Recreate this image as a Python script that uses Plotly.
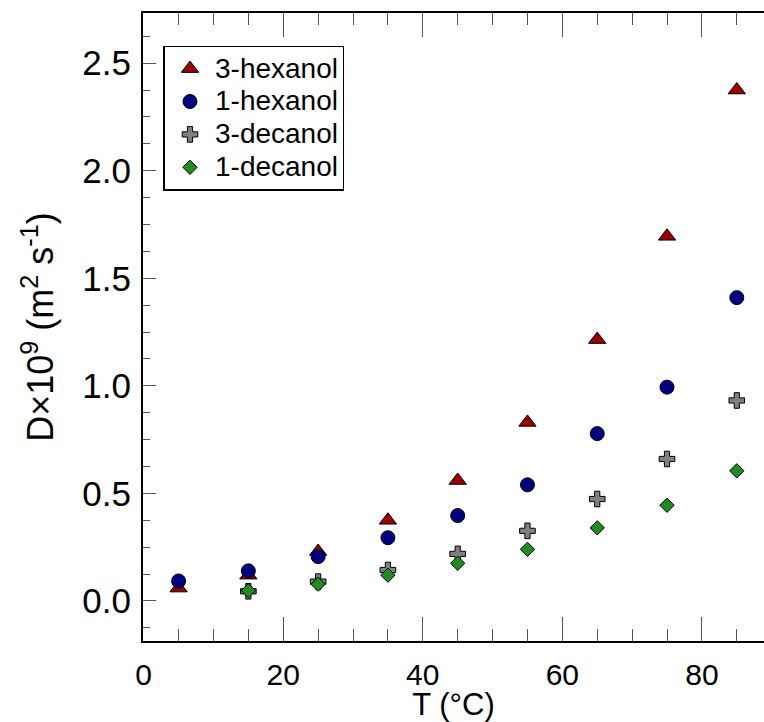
import plotly.graph_objects as go

# ---- data ----
T_hex = [5, 15, 25, 35, 45, 55, 65, 75, 85]
T_dec = [15, 25, 35, 45, 55, 65, 75, 85]
hex3 = [0.06, 0.12, 0.23, 0.375, 0.56, 0.83, 1.215, 1.695, 2.375]
hex1 = [0.093, 0.14, 0.206, 0.294, 0.397, 0.54, 0.778, 0.994, 1.41]
dec3 = [0.045, 0.09, 0.144, 0.219, 0.326, 0.474, 0.66, 0.932]
dec1 = [0.048, 0.078, 0.12, 0.175, 0.24, 0.34, 0.445, 0.605]
names = ["3-hexanol", "1-hexanol", "3-decanol", "1-decanol"]

FONT = "Liberation Sans, Arial, Helvetica, sans-serif"

series = [
    (T_hex, hex3, names[0], "triangle-up", "#990000", 15),
    (T_hex, hex1, names[1], "circle", "#000080", 14),
    (T_dec, dec3, names[2], "cross", "#808080", 13),
    (T_dec, dec1, names[3], "diamond", "#228B22", 11),
]

fig = go.Figure()
for x, y, name, sym, col, sz in series:
    fig.add_trace(go.Scatter(
        x=x, y=y, mode="markers",
        name='<span style="font-size:28px">%s</span>' % name,
        marker=dict(symbol=sym, color=col, size=sz,
                    line=dict(color="black", width=1)),
    ))

YR = [-0.186, 2.733]
XR = [-0.1, 88.9]

fig.update_layout(
    width=764, height=722,
    margin=dict(l=143, r=0, t=13, b=81),
    paper_bgcolor="white", plot_bgcolor="white",
    font=dict(family=FONT, color="black"),
    showlegend=True,
    legend=dict(
        x=0.033, y=0.948, xanchor="left", yanchor="top",
        bgcolor="white", bordercolor="black", borderwidth=1.5,
        font=dict(size=23, family=FONT, color="black"),
        itemwidth=40, tracegroupgap=0,
    ),
    xaxis=dict(
        range=XR, showgrid=False, zeroline=False,
        showline=True, linecolor="black", linewidth=2, mirror="ticks",
        tickmode="linear", tick0=0, dtick=20,
        ticks="inside", ticklen=24, tickwidth=1, tickcolor="#555555",
        tickfont=dict(size=30, family=FONT, color="black"),
        ticklabelstandoff=6,
        minor=dict(dtick=5, tick0=0, ticks="inside", ticklen=12,
                   tickwidth=1, tickcolor="#555555", showgrid=False),
        title=dict(text="T (°C)", font=dict(size=31, family=FONT),
                   standoff=2),
        automargin=False,
    ),
    yaxis=dict(
        range=YR, showgrid=False, zeroline=False,
        showline=True, linecolor="black", linewidth=2, mirror=False,
        tickmode="linear", tick0=0, dtick=0.5, tickformat=".1f",
        ticks="inside", ticklen=13, tickwidth=1, tickcolor="#555555",
        tickfont=dict(size=35, family=FONT, color="black"),
        ticklabelstandoff=3,
        minor=dict(dtick=0.125, tick0=0, ticks="inside", ticklen=7,
                   tickwidth=1, tickcolor="#555555", showgrid=False),
        title=dict(text="D×10<sup>9</sup> (m<sup>2</sup> s<sup>-1</sup>)",
                   font=dict(size=36, family=FONT), standoff=18),
        automargin=False,
    ),
    yaxis2=dict(
        range=YR, overlaying="y", side="right", anchor="x",
        showgrid=False, zeroline=False, showline=False,
        tickmode="linear", tick0=0, dtick=0.5,
        ticks="inside", ticklen=5, tickwidth=1, tickcolor="#555555",
        showticklabels=False,
    ),
)

fig.write_html("out.html")
